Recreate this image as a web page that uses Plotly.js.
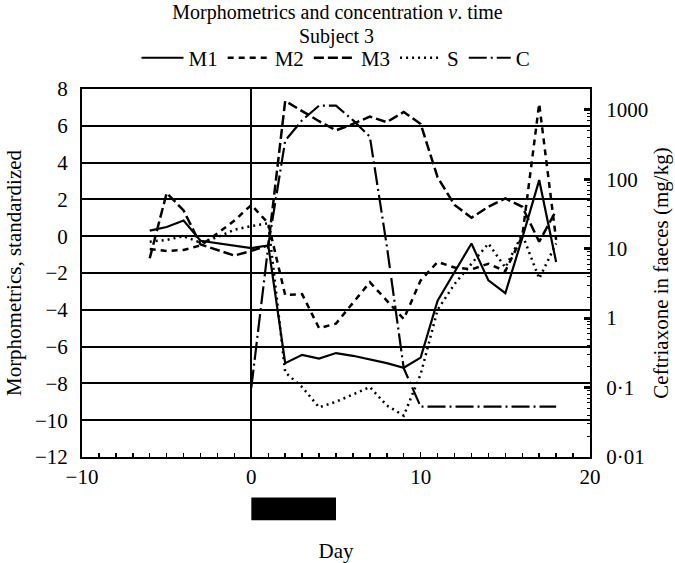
<!DOCTYPE html>
<html><head><meta charset="utf-8">
<script src="https://cdn.plot.ly/plotly-3.0.1.min.js"></script>
<style>html,body{margin:0;padding:0;background:#fff}</style>
</head><body><div id="chart" style="width:675px;height:563px"></div>
<script>
// ---- data ----
const m1Days = [-6,-5,-4,-3,0,1,2,3,4,5,6,7,8,9,10,11,13,14,15,16,17,18];
const m1Vals = [0.3,0.5,0.85,-0.25,-0.65,-0.5,-6.9,-6.45,-6.65,-6.35,-6.5,-6.7,-6.9,-7.15,-6.6,-3.5,-0.4,-2.4,-3.1,-0.1,3.05,-1.4];

const m2Days = [-6,-5,-4,-3,-2,-1,0,1,2,3,4,5,7,9,10,11,12,13,14,15,16,17,18];
const m2Vals = [-0.7,-0.8,-0.75,-0.5,0.15,0.85,1.7,0.7,-3.2,-3.15,-5.0,-4.75,-2.5,-4.5,-2.4,-1.4,-1.7,-1.8,-1.5,-1.9,0.0,7.2,-0.2];

const m3Days = [-6,-5,-4,-3,-1,0,1,2,3,4,5,6,7,8,9,10,11,12,13,14,15,16,17,18];
const m3Vals = [-1.2,2.35,1.4,-0.45,-1.05,-0.8,-0.5,7.35,6.8,6.25,5.75,6.1,6.5,6.2,6.75,6.1,3.2,1.7,1.0,1.6,2.05,1.6,-0.3,1.4];

const sDays = [-6,-5,-4,-3,-2,-1,0,1,2,3,4,5,6,7,8,9,10,11,12,13,14,15,16,17,18];
const sVals = [-0.3,-0.2,0.0,-0.35,-0.05,0.35,0.55,0.7,-7.4,-8.2,-9.3,-9.0,-8.6,-8.2,-9.2,-9.75,-7.5,-4.0,-2.6,-1.5,-0.4,-1.7,0.1,-2.3,-0.4];

// Ceftriaxone concentration in faeces (mg/kg), right log axis
const cDays = [0,1,2,3,4,5,6,7,8,9,10,11,12,13,14,15,16,17,18];
const cVals = [0.10,11,360,710,1150,1150,710,410,11,0.19,0.053,0.053,0.053,0.053,0.053,0.053,0.053,0.053,0.053];

const treatmentDays = [0, 5];

const xTicks = [-10, 0, 10, 20];
const yLeftTicks = [8,6,4,2,0,-2,-4,-6,-8,-10,-12];
const yRightTickVals = [0.01, 0.1, 1, 10, 100, 1000];
const yRightTickText = ['0·01', '0·1', '1', '10', '100', '1000'];

// ---- minor ticks for the log axis ----
const minorVals = [];
for (const d of [0.01, 0.1, 1, 10, 100, 1000]) {
  for (let k = 2; k <= 9; k++) minorVals.push(d * k);
}

const FONT = 'Liberation Serif, Times New Roman, serif';
const TXT = {family: FONT, size: 20, color: '#000'};
const LEG = {family: FONT, size: 21, color: '#000'};
const TICK = {family: FONT, size: 21, color: '#000'};
const AXT = {family: FONT, size: 21, color: '#000'};

const traces = [
  {x: m1Days, y: m1Vals, name: 'M1', mode: 'lines', line: {color: '#000', width: 2.2}},
  {x: m2Days, y: m2Vals, name: 'M2', mode: 'lines', line: {color: '#000', width: 2.5, dash: '6px,5px'}},
  {x: m3Days, y: m3Vals, name: 'M3', mode: 'lines', line: {color: '#000', width: 2.5, dash: '10px,4px'}},
  {x: sDays, y: sVals, name: 'S', mode: 'lines', line: {color: '#000', width: 2.5, dash: '2px,4px'}},
  {x: cDays, y: cVals, name: 'C', mode: 'lines', yaxis: 'y2', line: {color: '#000', width: 2.2, dash: '18px,4px,2px,4px'}}
];

const layout = {
  width: 675, height: 563,
  margin: {l: 82, r: 85, t: 89, b: 106, pad: 0},
  paper_bgcolor: '#fff', plot_bgcolor: '#fff',
  font: TXT,
  title: {
    text: 'Morphometrics and concentration <i>v</i>. time',
    font: TXT,
    x: 0.5, xanchor: 'center', y: 0.9778, yanchor: 'middle'
  },
  annotations: [{
    text: 'Subject 3', xref: 'paper', yref: 'paper', x: 0.5, y: 1.1427,
    xanchor: 'center', yanchor: 'middle', showarrow: false, font: TXT
  }],
  showlegend: true,
  legend: {
    orientation: 'h', x: 0.5, xanchor: 'center', y: 1.084, yanchor: 'middle',
    font: LEG, itemwidth: 42, bgcolor: 'rgba(0,0,0,0)', traceorder: 'normal'
  },
  xaxis: {
    range: [-10, 20], tickmode: 'array', tickvals: xTicks,
    showgrid: false, zeroline: true, zerolinecolor: '#000', zerolinewidth: 2,
    showline: true, linecolor: '#000', linewidth: 2, mirror: true,
    ticks: 'inside', ticklen: 5, tickwidth: 1.5, tickcolor: '#000',
    minor: {ticks: 'inside', dtick: 1, tick0: 0, ticklen: 4, tickwidth: 1.5, tickcolor: '#000', showgrid: false},
    tickfont: TICK,
    title: {text: 'Day', font: AXT, standoff: 58},
    fixedrange: true
  },
  yaxis: {
    range: [-12, 8], tickmode: 'array', tickvals: yLeftTicks,
    showgrid: true, gridcolor: '#000', gridwidth: 2,
    zeroline: false, showline: true, linecolor: '#000', linewidth: 2,
    ticks: '', ticklabelstandoff: 8,
    tickfont: TICK,
    title: {text: 'Morphometrics, standardized', font: AXT, standoff: 8},
    fixedrange: true
  },
  yaxis2: {
    type: 'log', range: [-2, 3.3], overlaying: 'y', side: 'right',
    tickmode: 'array', tickvals: yRightTickVals, ticktext: yRightTickText,
    showgrid: false, zeroline: false,
    showline: true, linecolor: '#000', linewidth: 2,
    ticks: 'inside', ticklen: 6, tickwidth: 3, tickcolor: '#000', ticklabelstandoff: 10,
    minor: {tickmode: 'array', tickvals: minorVals, ticks: 'inside', ticklen: 3, tickwidth: 1, tickcolor: '#000', showgrid: false},
    tickfont: TICK,
    title: {text: 'Ceftriaxone in faeces (mg/kg)', font: AXT, standoff: 6},
    fixedrange: true
  },
  shapes: [{
    type: 'rect', xref: 'x', yref: 'paper',
    x0: treatmentDays[0], x1: treatmentDays[1], y0: -0.172, y1: -0.11,
    fillcolor: '#000', line: {width: 0}
  }]
};

Plotly.newPlot('chart', traces, layout, {displayModeBar: false, staticPlot: true});
</script>
</body></html>
